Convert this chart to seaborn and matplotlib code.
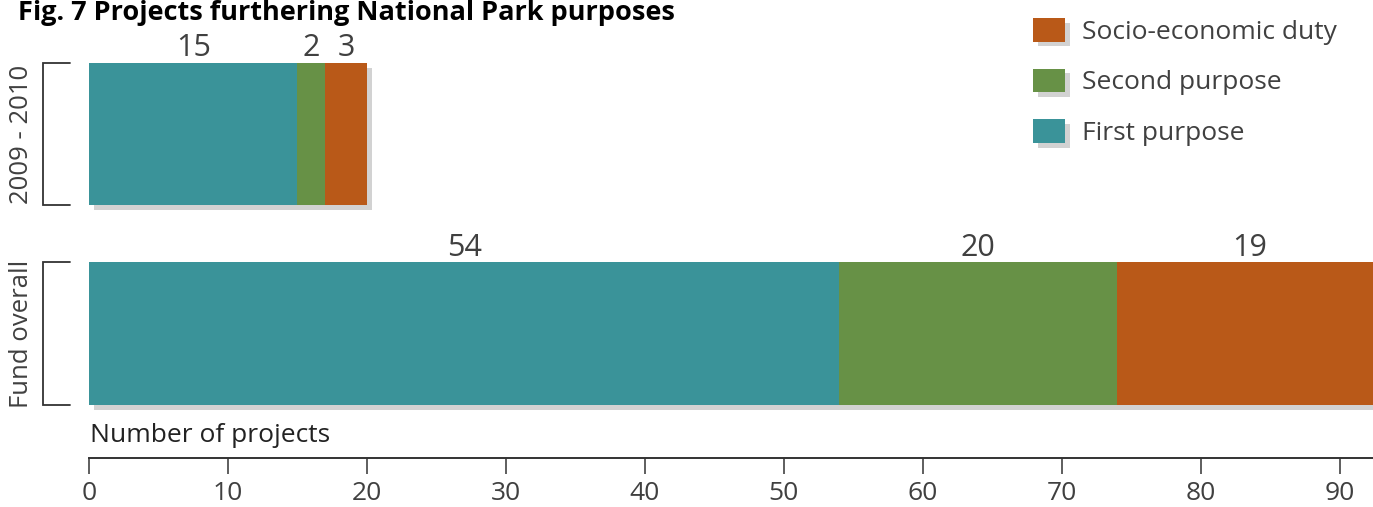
import matplotlib
matplotlib.use("Agg")
import matplotlib.pyplot as plt
import matplotlib.patheffects as pe
from matplotlib.patches import Patch
from matplotlib.transforms import blended_transform_factory
import seaborn as sns
import pandas as pd
import numpy as np

# ---- data ----
categories = ["2009 - 2010", "Fund overall"]
first_purpose = [15, 54]
second_purpose = [2, 20]
socio_economic = [3, 19]
series_names = ["Socio-economic duty", "Second purpose", "First purpose"]
xticks = [0, 10, 20, 30, 40, 50, 60, 70, 80, 90]

# ---- style ----
sns.set_theme(style="white")
plt.rcParams["font.family"] = ["Open Sans", "DejaVu Sans"]
TEAL = "#3a9399"
GREEN = "#679146"
ORANGE = "#b95918"
TXT = "#404040"
LINE = "#333333"

W, H = 1373, 507
fig = plt.figure(figsize=(W / 100, H / 100), dpi=100)
ax = fig.add_axes([89 / W, 49 / H, (W - 89) / W, (458 - 30) / H])

df = pd.DataFrame({
    "category": categories,
    "first": first_purpose,
    "second": second_purpose,
    "socio": socio_economic,
})
df["c1"] = df["first"]
df["c2"] = df["first"] + df["second"]
df["c3"] = df["c2"] + df["socio"]

shadow = [pe.SimplePatchShadow(offset=(3.5, -3.5), shadow_rgbFace="0.65", alpha=0.5), pe.Normal()]
bw = 0.714
sns.barplot(data=df, x="c3", y="category", orient="h", color=ORANGE, width=bw,
            saturation=1, ax=ax)
for p in ax.patches:
    p.set_path_effects(shadow)
sns.barplot(data=df, x="c2", y="category", orient="h", color=GREEN, width=bw,
            saturation=1, ax=ax)
sns.barplot(data=df, x="c1", y="category", orient="h", color=TEAL, width=bw,
            saturation=1, ax=ax)
for p in ax.patches:
    p.set_linewidth(0)

ax.set_xlim(0, 92.4)
ax.set_ylim(1.624, -0.521)
ax.set_xlabel("")
ax.set_ylabel("")
ax.set_yticks([])
ax.set_xticks(xticks)
ax.set_xticklabels([str(t) for t in xticks], fontsize=19, color=TXT)
ax.tick_params(axis="x", direction="out", length=11.5, width=1.1, color=LINE, pad=5, bottom=True)
for s in ["top", "right", "left"]:
    ax.spines[s].set_visible(False)
ax.spines["bottom"].set_color(LINE)
ax.spines["bottom"].set_linewidth(1.4)

# value labels
for i in range(len(categories)):
    starts = [0, df["c1"][i], df["c2"][i]]
    vals = [first_purpose[i], second_purpose[i], socio_economic[i]]
    for s0, v in zip(starts, vals):
        ax.annotate(str(v), xy=(s0 + v / 2, i - bw / 2), xytext=(0, 4.5),
                    textcoords="offset points", ha="center", va="baseline",
                    fontsize=22, color=TXT)

# brackets & category labels
tr = blended_transform_factory(ax.transAxes, ax.transData)
xv = (43 - 89) / (W - 89)
xh = (70 - 89) / (W - 89)
xl = (22 - 89) / (W - 89)
for i, cat in enumerate(categories):
    y0, y1 = i - bw / 2, i + bw / 2
    ax.plot([xh, xv, xv, xh], [y0, y0, y1, y1], transform=tr, clip_on=False,
            color=LINE, lw=1.3, solid_joinstyle="miter")
    ax.text(xl, i, cat, transform=tr, rotation=90, ha="center", va="center",
            fontsize=18.5, color=TXT)

# axis title
fig.text(90 / W, 1 - 442 / H, "Number of projects", fontsize=19, color="#222222",
         ha="left", va="baseline")

# figure title
fig.text(18 / W, 1 - 20 / H, "Fig. 7 Projects furthering National Park purposes",
         fontsize=19.5, fontweight="bold", color="black", ha="left", va="baseline")

# legend
handles = [Patch(facecolor=c, edgecolor="none", path_effects=shadow)
           for c in [ORANGE, GREEN, TEAL]]
fig.legend(handles, series_names, loc="upper left",
           bbox_to_anchor=(1033 / W, 1 - 18 / H), frameon=False, fontsize=19,
           labelcolor=TXT, handlelength=1.22, handleheight=1.0, handletextpad=0.62,
           labelspacing=0.9, borderpad=0, borderaxespad=0)

fig.savefig("out.png", dpi=100)
